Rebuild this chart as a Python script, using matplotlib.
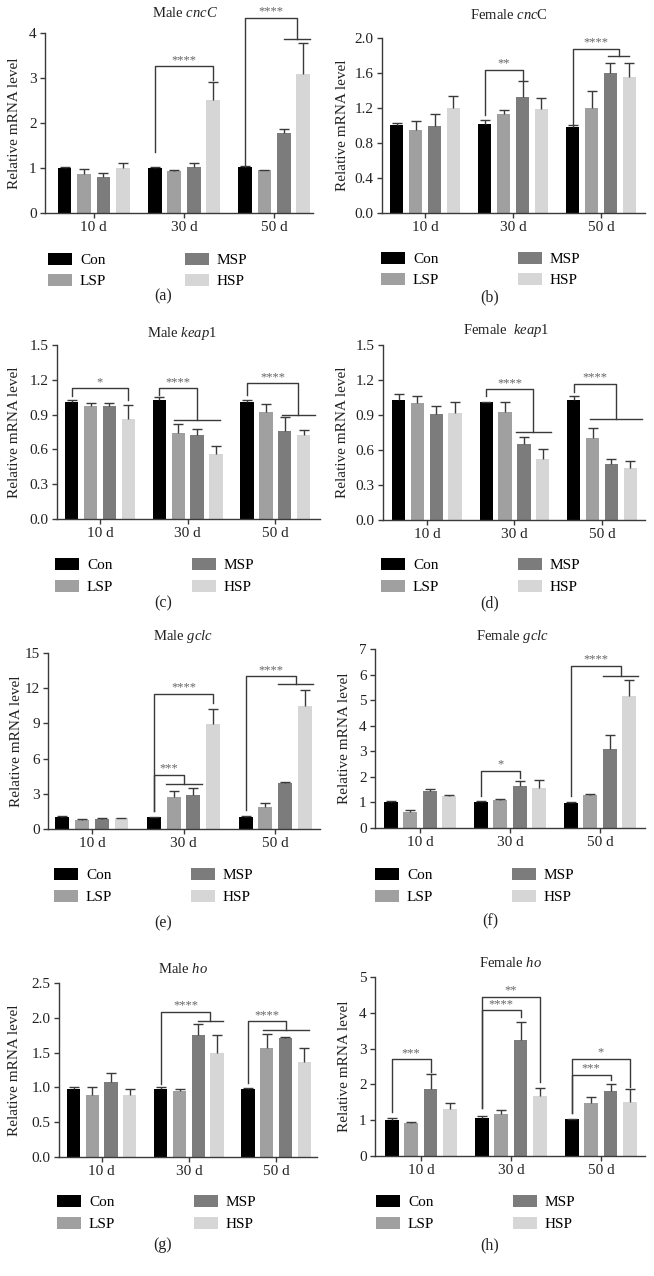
import numpy as np
import matplotlib.pyplot as plt
from matplotlib.patches import Patch

plt.rcParams['font.family'] = ['Liberation Serif', 'DejaVu Serif']
plt.rcParams['mathtext.fontset'] = 'custom'
plt.rcParams['mathtext.rm'] = 'Liberation Serif'
plt.rcParams['mathtext.it'] = 'Liberation Serif:italic'

# ---- data (rows: 10 d, 30 d, 50 d; cols: Con, LSP, MSP, HSP) ----
days = ['10 d', '30 d', '50 d']
groups = ['Con', 'LSP', 'MSP', 'HSP']
colors = ['#000000', '#a0a0a0', '#7c7c7c', '#d6d6d6']

male_cncc = [[1.00, 0.86, 0.81, 1.01], [0.99, 0.94, 1.03, 2.51], [1.02, 0.95, 1.77, 3.08]]
male_cncc_sd = [[0.03, 0.11, 0.08, 0.10], [0.04, 0.01, 0.09, 0.41], [0.02, 0.01, 0.09, 0.70]]
female_cncc = [[1.01, 0.95, 1.00, 1.20], [1.02, 1.13, 1.33, 1.19], [0.98, 1.20, 1.60, 1.55]]
female_cncc_sd = [[0.02, 0.10, 0.13, 0.14], [0.04, 0.05, 0.18, 0.13], [0.03, 0.20, 0.11, 0.17]]
male_keap1 = [[1.01, 0.975, 0.97, 0.86], [1.03, 0.745, 0.72, 0.56], [1.01, 0.92, 0.76, 0.72]]
male_keap1_sd = [[0.02, 0.025, 0.03, 0.12], [0.02, 0.07, 0.06, 0.065], [0.02, 0.07, 0.115, 0.05]]
female_keap1 = [[1.03, 1.00, 0.91, 0.92], [1.01, 0.93, 0.65, 0.52], [1.03, 0.70, 0.48, 0.45]]
female_keap1_sd = [[0.05, 0.06, 0.07, 0.09], [0.005, 0.08, 0.06, 0.09], [0.03, 0.09, 0.04, 0.06]]
male_gclc = [[1.05, 0.77, 0.82, 0.90], [0.99, 2.75, 2.89, 8.99], [1.05, 1.90, 3.94, 10.46]]
male_gclc_sd = [[0.03, 0.08, 0.08, 0.06], [0.03, 0.48, 0.57, 1.27], [0.05, 0.34, 0.03, 1.42]]
female_gclc = [[1.01, 0.62, 1.46, 1.26], [1.01, 1.09, 1.66, 1.56], [0.99, 1.31, 3.08, 5.15]]
female_gclc_sd = [[0.04, 0.08, 0.07, 0.04], [0.03, 0.05, 0.19, 0.33], [0.01, 0.03, 0.56, 0.64]]
male_ho = [[0.98, 0.89, 1.08, 0.89], [0.97, 0.95, 1.76, 1.49], [0.98, 1.57, 1.71, 1.37]]
male_ho_sd = [[0.02, 0.11, 0.12, 0.08], [0.03, 0.03, 0.15, 0.27], [0.01, 0.20, 0.01, 0.20]]
female_ho = [[1.00, 0.93, 1.86, 1.30], [1.06, 1.17, 3.25, 1.67], [1.02, 1.48, 1.82, 1.52]]
female_ho_sd = [[0.05, 0.02, 0.43, 0.19], [0.06, 0.12, 0.50, 0.22], [0.01, 0.16, 0.18, 0.35]]

# significance: (day, left bar, right bar, y top, y left leg, y right leg, label, sub line bars)
sig_a = [(1, 0, 3, 3.26, 1.35, 2.96, '****', None), (2, 0, None, 4.33, 1.06, 3.87, '****', (2.0, 3.35))]
sig_b = [(1, 0, 2, 1.64, 1.12, 1.52, '**', None), (2, 0, None, 1.88, 1.01, 1.79, '****', (1.85, 3.0))]
sig_c = [(0, 0, 3, 1.127, 1.06, 1.03, '*', None), (1, 0, None, 1.127, 1.07, 0.855, '****', (0.77, 3.23)),
         (2, 0, None, 1.17, 1.07, 0.90, '****', (1.84, 3.6))]
sig_d = [(1, 0, None, 1.12, 1.06, 0.757, '****', (1.58, 3.42)), (2, 0, None, 1.17, 1.10, 0.863, '****', (0.88, 3.6))]
sig_e = [(1, 0, 3, 11.54, 1.53, 10.75, '****', None), (1, 0, None, 4.59, 1.53, 3.83, '***', (0.6, 2.44)),
         (2, 0, None, 13.01, 1.62, 12.33, '****', (1.67, 3.4))]
sig_f = [(1, 0, 2, 2.22, 1.24, 1.95, '*', None), (2, 0, None, 6.35, 1.24, 5.96, '****', (1.68, 3.44))]
sig_g = [(1, 0, None, 2.08, 1.05, 1.95, '****', (2.0, 3.3)), (2, 0, None, 1.95, 1.06, 1.83, '****', (0.8, 3.25))]
sig_h = [(0, 0, 2, 2.70, 1.24, 2.35, '***', None), (1, 0, 3, 4.44, 1.33, 2.07, '**', None),
         (1, 0, 2, 4.07, 1.33, 3.88, '****', None), (2, 0, 3, 2.72, 1.19, 1.93, '*', None),
         (2, 0, 2, 2.26, 1.19, 2.12, '***', None)]

W, H = 654, 1276
fig = plt.figure(figsize=(W / 100, H / 100), dpi=100)

slot = 0.215
width = 0.152
line_c = '#3a3a3a'
fs = 11

# layout per panel: axes box (px), xlim, ylim, ticks, title, title pos, ylabel x, legend pos, tag pos
panels = [
    dict(data=male_cncc, sd=male_cncc_sd, sig=sig_a, box=(45, 33, 313, 213), xlim=(-0.54, 2.43),
         ylim=4, step=1, fmt='{:.0f}', title='Male $\\mathit{cncC}$', tpos=(185, 13), ylx=15,
         leg=(48, 270.5), tag='(a)', tagpos=(163, 296)),
    dict(data=female_cncc, sd=female_cncc_sd, sig=sig_b, box=(382, 38, 645, 213), xlim=(-0.49, 2.5),
         ylim=2.0, step=0.4, fmt='{:.1f}', title='Female $\\mathit{cnc}$C', tpos=(509, 15), ylx=342,
         leg=(381, 269.5), tag='(b)', tagpos=(490, 297)),
    dict(data=male_keap1, sd=male_keap1_sd, sig=sig_c, box=(57, 345, 320, 519), xlim=(-0.49, 2.51),
         ylim=1.5, step=0.3, fmt='{:.1f}', title='Male $\\mathit{keap}$1', tpos=(182, 333), ylx=15,
         leg=(55, 576), tag='(c)', tagpos=(163, 603)),
    dict(data=female_keap1, sd=female_keap1_sd, sig=sig_d, box=(383, 345, 645, 520), xlim=(-0.5, 2.49),
         ylim=1.5, step=0.3, fmt='{:.1f}', title='Female  $\\mathit{keap}$1', tpos=(506, 331), ylx=342,
         leg=(381, 576), tag='(d)', tagpos=(490, 603)),
    dict(data=male_gclc, sd=male_gclc_sd, sig=sig_e, box=(48, 653, 320, 829), xlim=(-0.48, 2.49),
         ylim=15, step=3, fmt='{:.0f}', title='Male $\\mathit{gclc}$', tpos=(183, 636), ylx=17,
         leg=(54, 886), tag='(e)', tagpos=(163, 923)),
    dict(data=female_gclc, sd=female_gclc_sd, sig=sig_f, box=(375, 649, 645, 828), xlim=(-0.5, 2.5),
         ylim=7, step=1, fmt='{:.0f}', title='Female $\\mathit{gclc}$', tpos=(512, 636), ylx=344,
         leg=(375, 886), tag='(f)', tagpos=(490, 921)),
    dict(data=male_ho, sd=male_ho_sd, sig=sig_g, box=(59, 983, 317, 1157), xlim=(-0.49, 2.47),
         ylim=2.5, step=0.5, fmt='{:.1f}', title='Male $\\mathit{ho}$', tpos=(183, 969), ylx=15,
         leg=(57, 1213), tag='(g)', tagpos=(163, 1245)),
    dict(data=female_ho, sd=female_ho_sd, sig=sig_h, box=(375, 977, 645, 1156), xlim=(-0.51, 2.49),
         ylim=5, step=1, fmt='{:.0f}', title='Female $\\mathit{ho}$', tpos=(510, 963), ylx=344,
         leg=(376, 1213), tag='(h)', tagpos=(490, 1245)),
]


def xpos(day, bar):
    return day + (bar - 1.5) * slot


def bracket(ax, day, b1, b2, ytop, yl, yr, label, sub):
    x1 = xpos(day, b1)
    if sub is not None:
        s0, s1 = xpos(day, sub[0]), xpos(day, sub[1])
        x2 = (s0 + s1) / 2
        ax.plot([s0, s1], [yr, yr], color=line_c, lw=1, clip_on=False, zorder=4)
    else:
        x2 = xpos(day, b2)
    ax.plot([x1, x1, x2, x2], [yl, ytop, ytop, yr], color=line_c, lw=1, clip_on=False, zorder=4)
    ax.annotate(label, ((x1 + x2) / 2, ytop), xytext=(0, 0.3), textcoords='offset points',
                ha='center', va='bottom', fontsize=9, color='#666666', annotation_clip=False)


handles = [Patch(facecolor=c, edgecolor='none', label=g) for g, c in zip(groups, colors)]

for p in panels:
    l, t, r, b = p['box']
    ax = fig.add_axes([l / W, 1 - b / H, (r - l) / W, (b - t) / H])
    mean = np.array(p['data'])
    sd = np.array(p['sd'])
    x = np.arange(len(days))
    for i in range(len(groups)):
        xs = x + (i - 1.5) * slot
        ax.bar(xs, mean[:, i], width, color=colors[i], edgecolor='none', zorder=2)
        top = mean[:, i] + sd[:, i]
        ax.vlines(xs, mean[:, i], top, color=line_c, lw=1, zorder=3)
        ax.plot(xs, top, ls='none', marker='_', ms=7, mew=1, color=line_c, zorder=3)
    for s in p['sig']:
        bracket(ax, *s)

    ax.set_xlim(*p['xlim'])
    ax.set_ylim(0, p['ylim'])
    yt = np.arange(0, p['ylim'] + p['step'] / 2, p['step'])
    ax.set_yticks(yt)
    ax.set_yticklabels([p['fmt'].format(v) for v in yt])
    ax.set_xticks(x)
    ax.set_xticklabels(days)
    ax.tick_params(axis='both', labelsize=fs, colors='#222222', width=1, length=3.5, pad=2.5)
    ax.tick_params(axis='both', color=line_c)
    for side in ['top', 'right']:
        ax.spines[side].set_visible(False)
    for side in ['left', 'bottom']:
        ax.spines[side].set_color(line_c)
        ax.spines[side].set_linewidth(1)
    ax.set_ylabel('Relative mRNA level', fontsize=fs, color='#222222', va='center')
    ax.yaxis.set_label_coords((p['ylx'] - l) / (r - l), 0.5)

    fig.text(p['tpos'][0] / W, 1 - p['tpos'][1] / H, p['title'], fontsize=10.5, color='#222222',
             ha='center', va='center')
    fig.text(p['tagpos'][0] / W, 1 - p['tagpos'][1] / H, p['tag'], fontsize=11.5, color='#222222',
             ha='center', va='center')
    fig.legend(handles=handles, loc='center left', ncol=2, frameon=False, fontsize=fs,
               bbox_to_anchor=(p['leg'][0] / W, 1 - p['leg'][1] / H),
               handlelength=1.57, handleheight=0.85, handletextpad=0.52, columnspacing=5.15,
               labelspacing=0.46, borderpad=0, borderaxespad=0)

fig.savefig('out.png', dpi=100)
